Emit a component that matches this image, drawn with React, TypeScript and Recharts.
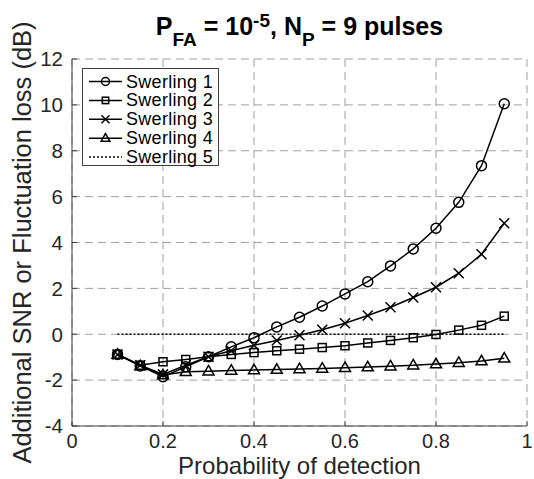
import React from 'react';
import { LineChart, Line, XAxis, YAxis, CartesianGrid } from 'recharts';

const FONT = '"Liberation Sans", Arial, Helvetica, sans-serif';

const pd = [0.1, 0.15, 0.2, 0.25, 0.3, 0.35, 0.4, 0.45, 0.5, 0.55, 0.6, 0.65, 0.7, 0.75, 0.8, 0.85, 0.9, 0.95];
const swerling1 = [-0.88, -1.38, -1.85, -1.42, -0.98, -0.55, -0.15, 0.32, 0.74, 1.23, 1.76, 2.29, 2.98, 3.72, 4.62, 5.75, 7.35, 10.05];
const swerling2 = [-0.88, -1.35, -1.2, -1.1, -0.98, -0.88, -0.8, -0.72, -0.65, -0.58, -0.5, -0.38, -0.27, -0.15, -0.01, 0.18, 0.39, 0.79];
const swerling3 = [-0.88, -1.35, -1.75, -1.35, -0.98, -0.72, -0.48, -0.27, -0.04, 0.2, 0.48, 0.82, 1.18, 1.6, 2.05, 2.66, 3.49, 4.84];
const swerling4 = [-0.88, -1.38, -1.78, -1.64, -1.61, -1.58, -1.56, -1.54, -1.51, -1.49, -1.46, -1.43, -1.39, -1.35, -1.3, -1.24, -1.17, -1.05];
const swerling5 = [0, 0, 0, 0, 0, 0, 0, 0, 0, 0, 0, 0, 0, 0, 0, 0, 0, 0];
const seriesNames = ['Swerling 1', 'Swerling 2', 'Swerling 3', 'Swerling 4', 'Swerling 5'];
const xTicks = [0, 0.2, 0.4, 0.6, 0.8, 1];
const yTicks = [-4, -2, 0, 2, 4, 6, 8, 10, 12];

const data = pd.map((x, i) => ({
  x,
  s1: swerling1[i],
  s2: swerling2[i],
  s3: swerling3[i],
  s4: swerling4[i],
  s5: swerling5[i],
}));

const AXIS = '#404040';
const TXT = '#262626';

type Shape = 'circle' | 'square' | 'x' | 'triangle';

function marker(shape: Shape, cx: number, cy: number, s: number, key?: any) {
  const common = { fill: 'none', stroke: '#000', strokeWidth: 1.5 };
  if (shape === 'circle') return <circle key={key} cx={cx} cy={cy} r={s} {...common} />;
  if (shape === 'square') return <rect key={key} x={cx - s * 0.8} y={cy - s * 0.8} width={s * 1.6} height={s * 1.6} {...common} />;
  if (shape === 'x')
    return (
      <path key={key} d={`M${cx - s},${cy - s}L${cx + s},${cy + s}M${cx - s},${cy + s}L${cx + s},${cy - s}`} {...common} />
    );
  return (
    <polygon key={key} points={`${cx},${cy - s * 1.15} ${cx + s * 1.1},${cy + s * 0.75} ${cx - s * 1.1},${cy + s * 0.75}`} {...common} />
  );
}

const makeDot = (shape: Shape) => (p: any) => {
  if (p.cx == null || p.cy == null) return <g key={p.index} />;
  return marker(shape, p.cx, p.cy, 5, p.index);
};

const YLabel = (props: any) => {
  const vb = props.viewBox || { x: 0, y: 59, width: 72, height: 367 };
  const cx = vb.x + 31;
  const cy = vb.y + vb.height / 2;
  return (
    <text x={cx} y={cy} transform={`rotate(-90, ${cx}, ${cy})`} textAnchor="middle" fontSize={25.5} fill={TXT} fontFamily={FONT}>
      Additional SNR or Fluctuation loss (dB)
    </text>
  );
};

const XLabel = (props: any) => {
  const vb = props.viewBox || { x: 72, y: 426, width: 455, height: 53 };
  return (
    <text x={vb.x + vb.width / 2} y={vb.y + 48} textAnchor="middle" fontSize={24} fill={TXT} fontFamily={FONT}>
      Probability of detection
    </text>
  );
};

const legendShapes: (Shape | null)[] = ['circle', 'square', 'x', 'triangle', null];

const LegendBox = () => (
  <svg width={137} height={98} style={{ position: 'absolute', left: 82, top: 68, overflow: 'visible' }}>
    <rect x={0.5} y={0.5} width={136} height={97} fill="#fff" stroke={AXIS} strokeWidth={1} />
    {seriesNames.map((name, i) => {
      const cy = 13.5 + i * 18.9;
      const shape = legendShapes[i];
      return (
        <g key={name}>
          <line x1={7} x2={40} y1={cy} y2={cy} stroke="#000" strokeWidth={1.5} strokeDasharray={shape ? undefined : '2 2'} />
          {shape ? marker(shape, 23.5, cy, 4) : null}
          <text x={44} y={cy + 6} fontSize={18} letterSpacing={0.3} fill="#000" fontFamily={FONT}>
            {name}
          </text>
        </g>
      );
    })}
  </svg>
);

const Title = () => (
  <div
    style={{
      position: 'absolute',
      left: 0,
      top: 14,
      width: 599,
      textAlign: 'center',
      fontFamily: FONT,
      fontWeight: 'bold',
      fontSize: 25,
      lineHeight: '25px',
      color: '#000',
      whiteSpace: 'nowrap',
    }}
  >
    P<span style={{ fontSize: 19, position: 'relative', top: 11 }}>FA</span> = 10
    <span style={{ fontSize: 19, position: 'relative', top: -8 }}>-5</span>, N
    <span style={{ fontSize: 19, position: 'relative', top: 11 }}>P</span> = 9 pulses
  </div>
);

export default function App() {
  return (
    <div style={{ position: 'absolute', left: 0, top: 0, width: 534, height: 479, background: '#fff' }}>
      <LineChart width={534} height={479} data={data} margin={{ top: 59, right: 7, bottom: 0, left: 0 }}>
        <CartesianGrid stroke="#a0a0a0" strokeDasharray="8 5" strokeWidth={1} />
        <XAxis
          dataKey="x"
          type="number"
          domain={[0, 1]}
          ticks={xTicks}
          height={53}
          tickSize={-5}
          tickMargin={13}
          tickFormatter={(v: number) => String(v)}
          axisLine={{ stroke: AXIS }}
          tickLine={{ stroke: AXIS }}
          tick={{ fontSize: 20, fill: TXT, fontFamily: FONT }}
          label={{ content: XLabel }}
          allowDataOverflow
        />
        <XAxis
          xAxisId="top"
          orientation="top"
          type="number"
          domain={[0, 1]}
          ticks={xTicks}
          height={0}
          tickSize={-5}
          tick={false}
          axisLine={{ stroke: AXIS }}
          tickLine={{ stroke: AXIS }}
          allowDataOverflow
        />
        <YAxis
          type="number"
          domain={[-4, 12]}
          ticks={yTicks}
          width={72}
          tickSize={-5}
          tickMargin={14}
          axisLine={{ stroke: AXIS }}
          tickLine={{ stroke: AXIS }}
          tick={{ fontSize: 20.5, fill: TXT, fontFamily: FONT }}
          label={{ content: YLabel }}
          allowDataOverflow
        />
        <YAxis
          yAxisId="right"
          orientation="right"
          type="number"
          domain={[-4, 12]}
          ticks={yTicks}
          width={0}
          tickSize={-5}
          tick={false}
          axisLine={{ stroke: AXIS }}
          tickLine={{ stroke: AXIS }}
          allowDataOverflow
        />
        <Line dataKey="s1" name={seriesNames[0]} type="linear" stroke="#000" strokeWidth={1.5} dot={makeDot('circle')} isAnimationActive={false} />
        <Line dataKey="s2" name={seriesNames[1]} type="linear" stroke="#000" strokeWidth={1.5} dot={makeDot('square')} isAnimationActive={false} />
        <Line dataKey="s3" name={seriesNames[2]} type="linear" stroke="#000" strokeWidth={1.5} dot={makeDot('x')} isAnimationActive={false} />
        <Line dataKey="s4" name={seriesNames[3]} type="linear" stroke="#000" strokeWidth={1.5} dot={makeDot('triangle')} isAnimationActive={false} />
        <Line dataKey="s5" name={seriesNames[4]} type="linear" stroke="#000" strokeWidth={1.5} strokeDasharray="2 2" dot={false} isAnimationActive={false} />
      </LineChart>
      <Title />
      <LegendBox />
    </div>
  );
}
